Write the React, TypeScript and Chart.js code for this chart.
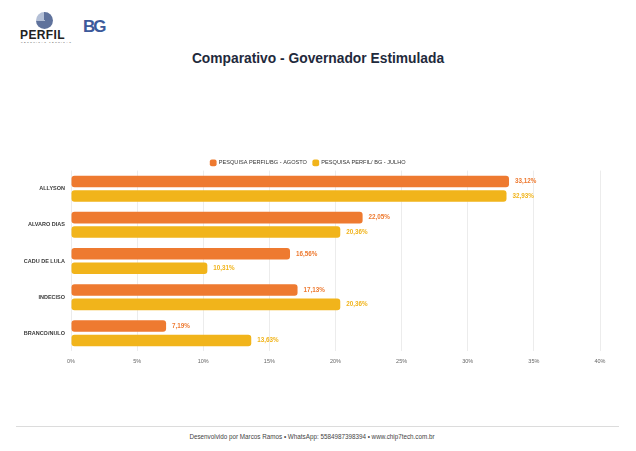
import React, { useEffect, useRef } from "react";
import { Chart, registerables } from "chart.js";

Chart.register(...registerables);

const categories = ["ALLYSON", "ALVARO DIAS", "CADU DE LULA", "INDECISO", "BRANCO/NULO"];
const seriesNames = ["PESQUISA PERFIL/BG - AGOSTO", "PESQUISA PERFIL/ BG - JULHO"];
const agosto = [33.12, 22.05, 16.56, 17.13, 7.19];
const julho = [32.93, 20.36, 10.31, 20.36, 13.63];
const xTicks = [0, 5, 10, 15, 20, 25, 30, 35, 40];

const ORANGE = "#EE7A30";
const YELLOW = "#F1B41B";
const FONT = "'Liberation Sans', Arial, sans-serif";

const valueLabels = {
  id: "valueLabels",
  afterDatasetsDraw(chart: any) {
    const ctx = chart.ctx;
    ctx.save();
    ctx.font = `bold 6.3px ${FONT}`;
    ctx.textBaseline = "middle";
    ctx.textAlign = "left";
    chart.data.datasets.forEach((ds: any, i: number) => {
      const meta = chart.getDatasetMeta(i);
      ctx.fillStyle = ds.backgroundColor;
      meta.data.forEach((el: any, j: number) => {
        const v = ds.data[j];
        const txt = v.toFixed(2).replace(".", ",") + "%";
        ctx.fillText(txt, el.x + 6, el.y);
      });
    });
    ctx.restore();
  },
};

const legendGap = {
  id: "legendGap",
  beforeLayout(chart: any) {
    const lg = chart.legend;
    if (lg && !lg._gapWrapped) {
      const orig = lg.fit.bind(lg);
      lg.fit = function () {
        orig();
        this.height = Math.max(0, this.height - 5);
      };
      lg._gapWrapped = true;
    }
  },
};

export default function App() {
  const ref = useRef<HTMLCanvasElement>(null);
  useEffect(() => {
    if (!ref.current) return;
    const chart = new Chart(ref.current, {
      type: "bar",
      data: {
        labels: categories,
        datasets: [
          {
            label: seriesNames[0],
            data: agosto,
            backgroundColor: ORANGE,
            borderRadius: 3,
            borderSkipped: false,
            categoryPercentage: 0.8,
            barPercentage: 0.8,
          },
          {
            label: seriesNames[1],
            data: julho,
            backgroundColor: YELLOW,
            borderRadius: 3,
            borderSkipped: false,
            categoryPercentage: 0.8,
            barPercentage: 0.8,
          },
        ],
      },
      options: {
        indexAxis: "y",
        animation: false,
        responsive: false,
        maintainAspectRatio: false,
        layout: { padding: { left: 0, right: 20, top: 0, bottom: 6 } },
        plugins: {
          legend: {
            position: "top",
            labels: {
              font: { family: FONT, size: 5.6 },
              color: "#333",
              boxWidth: 6,
              boxHeight: 6,
              usePointStyle: true,
              pointStyle: "rectRounded",
              padding: 6,
            },
          },
          tooltip: { enabled: false },
        },
        scales: {
          x: {
            min: 0,
            max: 40,
            afterBuildTicks: (scale: any) => {
              scale.ticks = xTicks.map((v) => ({ value: v }));
            },
            ticks: {
              font: { family: FONT, size: 5.5 },
              color: "#666",
              padding: 7,
              callback: (v: any) => v + "%",
            },
            grid: { color: "#ececec", drawTicks: false },
            border: { display: false },
          },
          y: {
            afterFit: (scale: any) => {
              scale.width = 55;
            },
            ticks: {
              font: { family: FONT, size: 5.5, weight: "bold" },
              color: "#3a3a3a",
              padding: 6,
            },
            grid: { display: false, drawTicks: false },
            border: { display: false },
          },
        },
      },
      plugins: [valueLabels, legendGap],
    });
    return () => chart.destroy();
  }, []);

  return (
    <div
      style={{
        position: "absolute",
        left: 0,
        top: 0,
        width: 636,
        height: 451,
        overflow: "hidden",
        background: "#fff",
        fontFamily: FONT,
      }}
    >
      {/* PERFIL logo */}
      <div style={{ position: "absolute", left: 36, top: 12, width: 17, height: 17, borderRadius: "50%", background: "conic-gradient(from 270deg, #b3bfd6 0 25%, #5f729c 25% 100%)" }} />
      <div style={{ position: "absolute", left: 20, top: 28, fontSize: 12, fontWeight: 900, color: "#222", letterSpacing: 0.4 }}>PERFIL</div>
      <div style={{ position: "absolute", left: 21, top: 41, fontSize: 2.5, color: "#555", letterSpacing: 1.3 }}>PESQUISAS TÉCNICAS</div>
      {/* BG logo */}
      <div style={{ position: "absolute", left: 83, top: 17, fontSize: 17, fontWeight: 900, color: "#3c5a9b", letterSpacing: -2 }}>BG</div>
      {/* Title */}
      <div style={{ position: "absolute", left: 0, width: 636, top: 51, textAlign: "center", fontSize: 13.8, fontWeight: "bold", color: "#1f2a3c" }}>
        Comparativo - Governador Estimulada
      </div>
      <canvas ref={ref} width={604} height={224} style={{ position: "absolute", left: 16, top: 154, width: 604, height: 224 }} />
      <div style={{ position: "absolute", left: 16, width: 603, top: 426, borderTop: "1px solid #dcdcdc" }} />
      <div style={{ position: "absolute", left: -6, width: 636, top: 433, textAlign: "center", fontSize: 6.3, color: "#444" }}>
        Desenvolvido por Marcos Ramos • WhatsApp: 5584987398394 • www.chip7tech.com.br
      </div>
    </div>
  );
}
